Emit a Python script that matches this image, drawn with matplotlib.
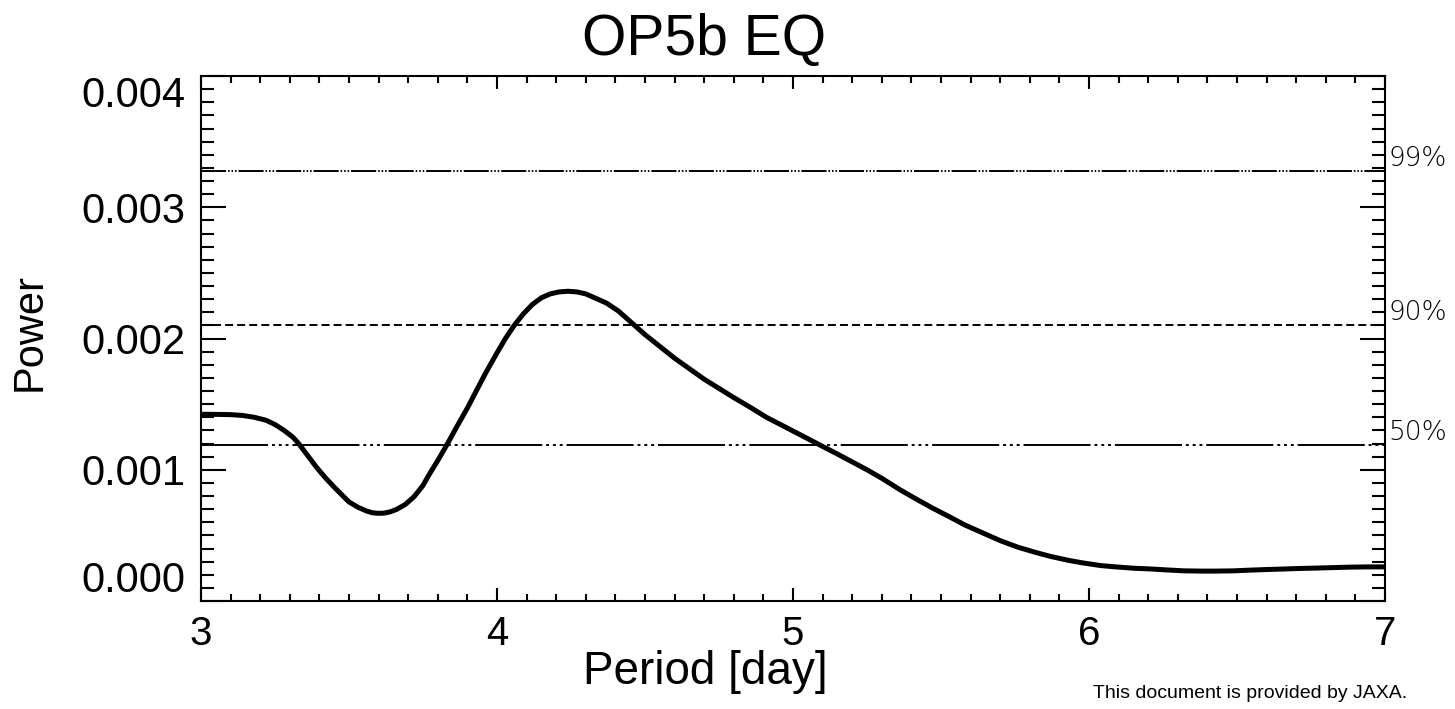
import matplotlib
matplotlib.use("Agg")
import matplotlib.pyplot as plt
from matplotlib.ticker import MultipleLocator, FixedLocator

# ─────────────────────────────────────────
# DATA
# ─────────────────────────────────────────
period = [3.00, 3.05, 3.10, 3.14, 3.18, 3.22, 3.25, 3.28, 3.31, 3.33,
          3.36, 3.39, 3.42, 3.45, 3.48, 3.50, 3.53, 3.56, 3.58, 3.60,
          3.62, 3.64, 3.66, 3.69, 3.72, 3.75, 3.77, 3.80, 3.83, 3.86,
          3.90, 3.93, 3.96, 4.00, 4.03, 4.06, 4.09, 4.12, 4.15, 4.18,
          4.21, 4.24, 4.27, 4.30, 4.33, 4.37, 4.41, 4.46, 4.50, 4.55,
          4.60, 4.65, 4.70, 4.75, 4.80, 4.86, 4.91, 4.96, 5.02, 5.06,
          5.10, 5.15, 5.20, 5.25, 5.30, 5.36, 5.42, 5.47, 5.53, 5.58,
          5.64, 5.70, 5.76, 5.82, 5.87, 5.93, 5.98, 6.04, 6.09, 6.15,
          6.21, 6.27, 6.32, 6.38, 6.43, 6.49, 6.54, 6.60, 6.66, 6.71,
          6.77, 6.83, 6.88, 6.94, 7.00]
power = [0.001423, 0.001422, 0.001420, 0.001414, 0.001400, 0.001377,
         0.001345, 0.001301, 0.001250, 0.001200, 0.001110, 0.001020,
         0.000940, 0.000868, 0.000800, 0.000755, 0.000715, 0.000685,
         0.000672, 0.000668, 0.000670, 0.000680, 0.000697, 0.000735,
         0.000795, 0.000880, 0.000960, 0.001070, 0.001187, 0.001310,
         0.001470, 0.001600, 0.001730, 0.001890, 0.002005, 0.002105,
         0.002190, 0.002260, 0.002310, 0.002340, 0.002355, 0.002360,
         0.002355, 0.002340, 0.002310, 0.002270, 0.002210, 0.002110,
         0.002030, 0.001940, 0.001850, 0.001770, 0.001690, 0.001620,
         0.001550, 0.001470, 0.001400, 0.001342, 0.001272, 0.001225,
         0.001178, 0.001120, 0.001060, 0.001000, 0.000935, 0.000850,
         0.000772, 0.000710, 0.000640, 0.000580, 0.000520, 0.000460,
         0.000410, 0.000370, 0.000340, 0.000310, 0.000290, 0.000270,
         0.000260, 0.000250, 0.000244, 0.000236, 0.000230, 0.000228,
         0.000228, 0.000230, 0.000235, 0.000240, 0.000244, 0.000248,
         0.000251, 0.000255, 0.000258, 0.000260, 0.000260]

levels = [0.00328, 0.00210, 0.001187]
level_labels = ["99%", "90%", "50%"]

xticks = [3, 4, 5, 6, 7]
yticks = [0.000, 0.001, 0.002, 0.003, 0.004]
ytick_labels = ["0.000", "0.001", "0.002", "0.003", "0.004"]

# line styles of the significance levels (dash patterns in linewidth units)
level_styles = [
    (0, (12.9, 1.0, 0.8, 1.0, 0.8, 1.0, 0.8, 1.0)),   # dash + three dots
    (0, (4.1, 2.1)),                                  # dashed
    (0, (34.5, 2.0, 1.5, 2.0, 1.5, 2.0, 1.5, 2.0)),   # long dash + dots
]

FONT = ["Liberation Sans", "DejaVu Sans"]

# ─────────────────────────────────────────
# FIGURE
# ─────────────────────────────────────────
fig = plt.figure(figsize=(14.55, 7.09), dpi=100)
ax = fig.add_axes([0.1381, 0.1523, 0.9519 - 0.1381, 0.8928 - 0.1523])

ax.plot(period, power, color="black", lw=3.6, solid_capstyle="butt",
        solid_joinstyle="round", zorder=3)

for lev, lab, ls in zip(levels, level_labels, level_styles):
    ax.axhline(lev, color="black", lw=1.4, linestyle=ls, zorder=2)
    ax.text(1.003, lev, lab, transform=ax.get_yaxis_transform(),
            ha="left", va="bottom", fontsize=19, color="black",
            family=["DejaVu Sans"], fontweight="light")

ax.set_xlim(3, 7)
ax.set_ylim(0, 0.004)

ax.xaxis.set_major_locator(FixedLocator(xticks))
ax.xaxis.set_minor_locator(MultipleLocator(0.1))
ax.yaxis.set_major_locator(FixedLocator(yticks))
ax.yaxis.set_minor_locator(MultipleLocator(0.0001))
ax.set_xticklabels([str(t) for t in xticks], family=FONT, fontsize=29)
ax.set_yticklabels(ytick_labels, family=FONT, fontsize=30)

ax.tick_params(axis="both", which="both", direction="in",
               top=True, right=True, color="black", width=1.5)
ax.tick_params(axis="x", which="major", length=9.5, pad=10)
ax.tick_params(axis="x", which="minor", length=5)
ax.tick_params(axis="y", which="major", length=18, pad=11)
ax.tick_params(axis="y", which="minor", length=9.4)

for sp in ax.spines.values():
    sp.set_linewidth(1.5)

# end labels of the y axis sit inside the axis range
ylabels = ax.get_yticklabels()
ylabels[0].set_verticalalignment("bottom")
ylabels[-1].set_verticalalignment("top")

ax.set_xlabel("Period [day]", family=FONT, fontsize=33)
ax.xaxis.set_label_coords(0.4257, -0.135)
ax.xaxis.label.set_verticalalignment("center")
ax.set_ylabel("Power", family=FONT, fontsize=30)
ax.yaxis.set_label_coords(-0.145, 0.512)
ax.yaxis.label.set_verticalalignment("center")

fig.text(704 / 1455, 1 - 40 / 709, "OP5b EQ", family=FONT, fontsize=41,
         ha="center", va="center")
fig.text(1093 / 1455, 1 - 694 / 709, "This document is provided by JAXA.",
         family=FONT, fontsize=14, ha="left", va="center")

plt.savefig("out.png", dpi=100)
